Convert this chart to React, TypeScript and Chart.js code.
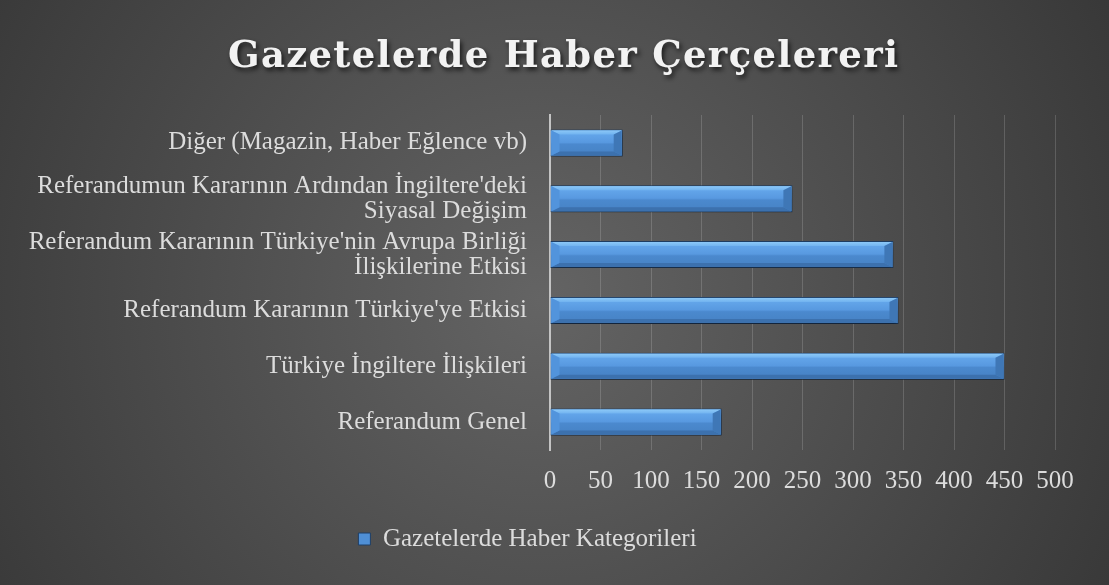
import React, { useEffect, useRef } from "react";
import { Chart, registerables } from "chart.js";

Chart.register(...registerables);

// ---- data ----
const TITLE = "Gazetelerde Haber Çerçelereri";
const SERIES_NAME = "Gazetelerde Haber Kategorileri";
const categories: string[][] = [
  ["Diğer (Magazin, Haber Eğlence vb)"],
  ["Referandumun Kararının Ardından İngiltere'deki", "Siyasal Değişim"],
  ["Referandum Kararının Türkiye'nin Avrupa Birliği", "İlişkilerine Etkisi"],
  ["Referandum Kararının Türkiye'ye Etkisi"],
  ["Türkiye İngiltere İlişkileri"],
  ["Referandum Genel"],
];
const values: number[] = [72, 240, 340, 345, 450, 170];
const X_MIN = 0;
const X_MAX = 500;
const X_STEP = 50;

const FONT_FAMILY = "'Liberation Serif', 'Times New Roman', serif";
const TITLE_FAMILY = "'DejaVu Serif', 'Liberation Serif', serif";
const TEXT_COLOR = "#dcdcdc";

const backgroundAndTitle = {
  id: "bgTitle",
  beforeDraw(chart: any) {
    const { ctx, width, height } = chart;
    ctx.save();
    const g = ctx.createRadialGradient(540, 300, 0, 540, 300, 680);
    g.addColorStop(0, "#646464");
    g.addColorStop(1, "#363636");
    ctx.fillStyle = g;
    ctx.fillRect(0, 0, width, height);

    ctx.font = `bold 37px ${TITLE_FAMILY}`;
    (ctx as any).letterSpacing = "0px";
    const chars = Array.from(TITLE).length;
    const w0 = ctx.measureText(TITLE).width;
    const target = 670;
    const ls = Math.max(0, (target - w0) / (chars - 1));
    (ctx as any).letterSpacing = ls + "px";
    ctx.textAlign = "left";
    ctx.textBaseline = "alphabetic";
    ctx.shadowColor = "rgba(0,0,0,0.7)";
    ctx.shadowBlur = 5;
    ctx.shadowOffsetX = 2;
    ctx.shadowOffsetY = 3;
    ctx.fillStyle = "#f2f2f2";
    ctx.fillText(TITLE, 563 - target / 2, 67);
    ctx.restore();
  },
};

const bevelPlugin = {
  id: "bevel",
  beforeDatasetsDraw(chart: any) {
    const ctx = chart.ctx;
    ctx.save();
    ctx.shadowColor = "rgba(0,0,0,0.55)";
    ctx.shadowBlur = 5;
    ctx.shadowOffsetX = 1;
    ctx.shadowOffsetY = 3;
  },
  afterDatasetsDraw(chart: any) {
    const ctx = chart.ctx;
    ctx.restore();
    const meta = chart.getDatasetMeta(0);
    meta.data.forEach((el: any) => {
      const { x, y, base, height } = el.getProps(["x", "y", "base", "height"], true);
      const x0 = Math.min(base, x) + 1;
      const x1 = Math.max(base, x) - 1;
      const y0 = y - height / 2 + 1;
      const y1 = y + height / 2 - 1;
      const bx = Math.min(8, (x1 - x0) / 2);
      const by = 4;
      const ix0 = x0 + bx, ix1 = x1 - bx, iy0 = y0 + by, iy1 = y1 - by;
      ctx.save();
      const face = ctx.createLinearGradient(0, y0, 0, y1);
      face.addColorStop(0, "#68abee");
      face.addColorStop(0.48, "#5899e0");
      face.addColorStop(0.55, "#4b89ce");
      face.addColorStop(1, "#4682c4");
      ctx.fillStyle = face;
      ctx.fillRect(x0, y0, x1 - x0, y1 - y0);
      const poly = (pts: number[][], color: any) => {
        ctx.beginPath();
        ctx.moveTo(pts[0][0], pts[0][1]);
        for (let i = 1; i < pts.length; i++) ctx.lineTo(pts[i][0], pts[i][1]);
        ctx.closePath();
        ctx.fillStyle = color;
        ctx.fill();
      };
      const topG = ctx.createLinearGradient(0, y0, 0, iy0);
      topG.addColorStop(0, "#8cc8f7");
      topG.addColorStop(1, "#71b3f0");
      poly([[x0, y0], [x1, y0], [ix1, iy0], [ix0, iy0]], topG);
      poly([[x0, y1], [x1, y1], [ix1, iy1], [ix0, iy1]], "#3c71ae");
      poly([[x0, y0], [ix0, iy0], [ix0, iy1], [x0, y1]], "#5294dc");
      poly([[x1, y0], [ix1, iy0], [ix1, iy1], [x1, y1]], "#3f77b6");
      ctx.restore();
    });
  },
};

export default function App() {
  const ref = useRef<HTMLCanvasElement | null>(null);

  useEffect(() => {
    document.body.style.margin = "0";
    const canvas = ref.current;
    if (!canvas) return;
    const chart = new Chart(canvas, {
      type: "bar",
      data: {
        labels: categories,
        datasets: [
          {
            label: SERIES_NAME,
            data: values,
            backgroundColor: "#4f8fd5",
            borderColor: "#1f3f66",
            borderWidth: 1,
            barPercentage: 0.484,
            categoryPercentage: 1,
          },
        ],
      },
      options: {
        responsive: false,
        animation: false,
        indexAxis: "y",
        layout: { padding: { top: 115, right: 54, bottom: 23.5, left: 0 } },
        plugins: {
          title: { display: false },
          tooltip: { enabled: false },
          legend: {
            position: "bottom",
            labels: {
              color: TEXT_COLOR,
              font: { family: FONT_FAMILY, size: 25, lineHeight: 1 },
              boxWidth: 12,
              boxHeight: 12,
              padding: 10,
            },
          },
        },
        scales: {
          x: {
            min: X_MIN,
            max: X_MAX,
            ticks: {
              stepSize: X_STEP,
              color: TEXT_COLOR,
              font: { family: FONT_FAMILY, size: 25, lineHeight: 1 },
              padding: 19,
              maxRotation: 0,
              autoSkip: false,
            },
            grid: { color: "rgba(255,255,255,0.16)", lineWidth: 1, drawTicks: false },
            border: { display: false },
            afterFit(s: any) {
              s.height = 66.5;
              s.paddingLeft = 0;
              s.paddingRight = 0;
            },
          },
          y: {
            ticks: {
              color: TEXT_COLOR,
              font: { family: FONT_FAMILY, size: 25, lineHeight: 1 },
              padding: 23,
              autoSkip: false,
            },
            grid: { display: false, drawTicks: false },
            border: { display: true, color: "#c4c4c4", width: 2 },
            afterFit(s: any) {
              s.width = 550;
              s.paddingTop = 0;
              s.paddingBottom = 0;
            },
          },
        },
      },
      plugins: [backgroundAndTitle, bevelPlugin],
    } as any);
    return () => chart.destroy();
  }, []);

  return (
    <canvas
      ref={ref}
      width={1109}
      height={585}
      style={{ display: "block", width: 1109, height: 585 }}
    />
  );
}
